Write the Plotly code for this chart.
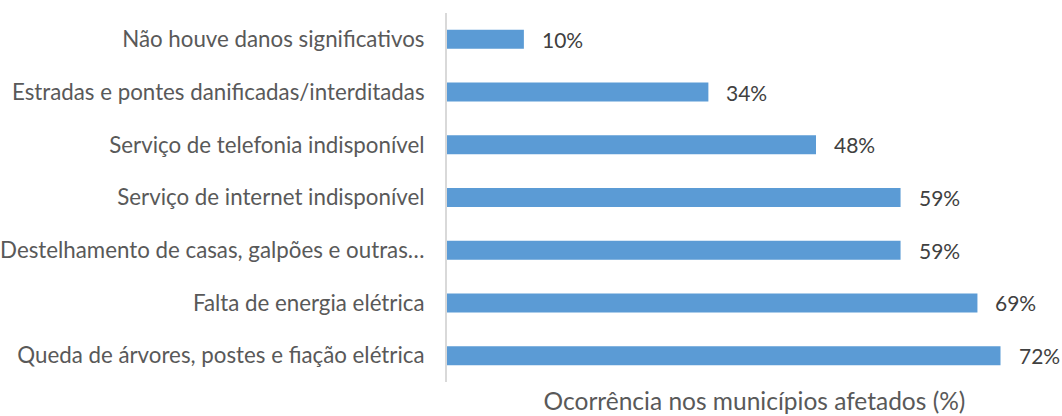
import plotly.graph_objects as go

categories = [
    "Não houve danos significativos",
    "Estradas e pontes danificadas/interditadas",
    "Serviço de telefonia indisponível",
    "Serviço de internet indisponível",
    "Destelhamento de casas, galpões e outras…",
    "Falta de energia elétrica",
    "Queda de árvores, postes e fiação elétrica",
]
values = [10, 34, 48, 59, 59, 69, 72]
labels = ["10%", "34%", "48%", "59%", "59%", "69%", "72%"]

FONT = "Lato"
TXT = "#595959"

fig = go.Figure(
    go.Bar(
        x=values,
        y=categories,
        orientation="h",
        marker=dict(color="#5B9BD5", line=dict(width=0)),
        hoverinfo="skip",
    )
)

for v, c, t in zip(values, categories, labels):
    fig.add_annotation(
        x=v, y=c, xref="x", yref="y", text=t, showarrow=False,
        xanchor="left", yanchor="middle", xshift=16,
        font=dict(family=FONT, size=21, color="#404040"),
    )

fig.update_layout(
    width=1062,
    height=416,
    margin=dict(l=447, r=0, t=13, b=34),
    paper_bgcolor="white",
    plot_bgcolor="white",
    bargap=0.64,
    showlegend=False,
    font=dict(family=FONT, color=TXT),
    xaxis=dict(
        range=[0, 80],
        showticklabels=False,
        showgrid=False,
        zeroline=False,
        showline=False,
        ticks="",
        title=dict(
            text="Ocorrência nos municípios afetados (%)",
            font=dict(family=FONT, size=24.5, color=TXT),
            standoff=10,
        ),
    ),
    yaxis=dict(
        autorange="reversed",
        showgrid=False,
        zeroline=False,
        showline=True,
        linecolor="#D9D9D9",
        linewidth=2,
        ticks="",
        ticklabelstandoff=16,
        tickfont=dict(family=FONT, size=22.3, color=TXT),
    ),
)

fig.write_html("out.html")
